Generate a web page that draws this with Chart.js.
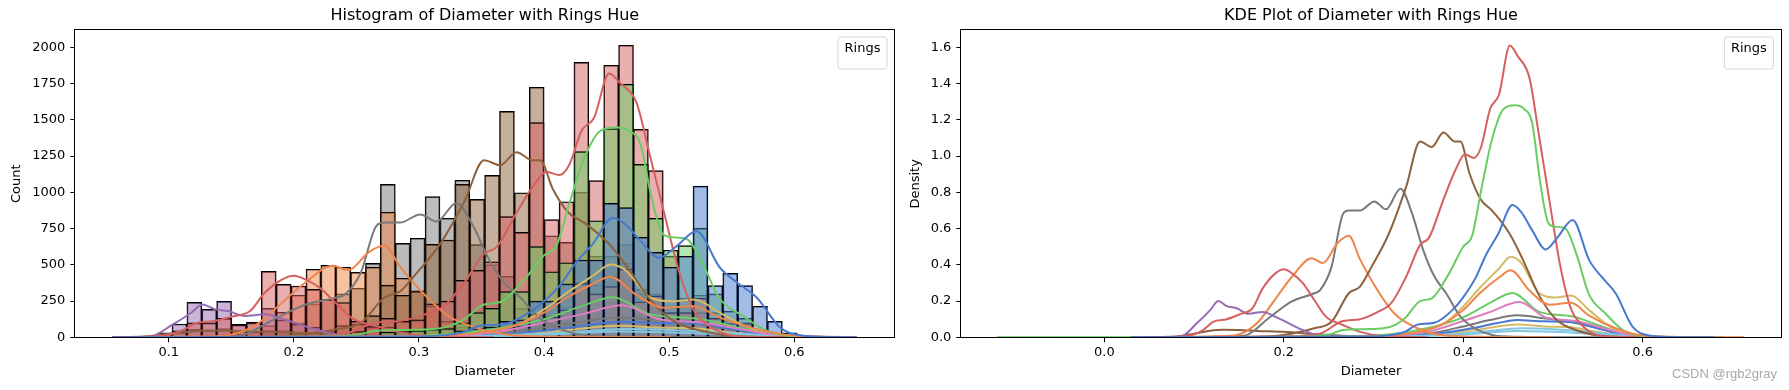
<!DOCTYPE html>
<html>
<head>
<meta charset="utf-8">
<script src="https://cdn.jsdelivr.net/npm/chart.js@4.4.1/dist/chart.umd.min.js"></script>
<style>
  html, body { margin: 0; padding: 0; background: #fff; }
  #wrap { position: relative; width: 1789px; height: 390px; overflow: hidden; background: #fff; }
  #c1 { position: absolute; left: 0; top: 0; }
  #c2 { position: absolute; left: 900px; top: 0; }
  #wm { position: absolute; left: 1672px; top: 366px; font: 13px 'Liberation Sans', sans-serif; line-height: 15px; color: #a8a8a8; white-space: nowrap; }
</style>
</head>
<body>
<div id="wrap">
  <canvas id="c1" width="900" height="390"></canvas>
  <canvas id="c2" width="889" height="390"></canvas>
  <div id="wm">CSDN @rgb2gray</div>
</div>
<script>
// ---------------- DATA ----------------
const histTitle = 'Histogram of Diameter with Rings Hue';
const kdeTitle = 'KDE Plot of Diameter with Rings Hue';
const xLabel = 'Diameter';
const histYLabel = 'Count';
const kdeYLabel = 'Density';
const legendTitle = 'Rings';

// histogram bins (seaborn auto bins over the data range)
const binStart = 0.055;
const binWidth = 0.0119;
const dataMin = 0.055;
const dataMax = 0.65;
const KDE_TO_COUNT = 1130; // density -> count (N * bin width)

const countTicks = [0, 250, 500, 750, 1000, 1250, 1500, 1750, 2000];
const histXTicks = [0.1, 0.2, 0.3, 0.4, 0.5, 0.6];
const densityTicks = [0, 0.2, 0.4, 0.6, 0.8, 1.0, 1.2, 1.4, 1.6];
const kdeXTicks = [0.0, 0.2, 0.4, 0.6];

// per-hue histogram counts, by bin index
const blueHist    = [0,0,0,0,0,0,0,0,0,0,0,0,0,0,0,0,0,0,0,0,0,0,20,45,60,70,110,120,250,250,368,533,533,924,894,690,586,483,559,1043,356,441,356,214,110,30,8];
const orange2Hist = [0,0,0,0,0,0,0,0,0,0,0,0,0,0,0,0,0,0,0,0,0,0,0,0,25,35,70,75,155,140,190,370,300,350,470,245,285,170,170,270,130,95,100,40,28,8];
const greenHist   = [0,0,0,0,0,0,0,0,0,0,0,0,0,0,0,0,0,0,35,40,45,55,60,100,170,200,315,315,625,452,514,1280,804,1439,1745,1193,820,600,632,751,300,180,130,50,25,8];
const redBigHist  = [0,0,0,0,0,0,0,0,0,0,0,0,0,0,0,0,40,80,130,110,120,230,250,393,462,521,832,724,1480,811,935,1896,1080,1876,2014,1434,1149,560,270,170,30,10];
const redSmallHist= [0,0,0,10,45,100,100,130,85,100,455,365,354,330,260,240,110,70,70,30,15,8];
const purpleHist  = [0,0,0,30,92,241,193,248,90,105,200,120,90,70,30,20,8,4];
const brownHist   = [0,0,0,0,0,0,0,0,0,0,0,0,20,30,40,80,90,150,360,290,320,641,671,1055,951,1117,1558,997,1724,700,655,1000,560,560,640,330,300,100,65,55,20,10];
const orange1Hist = [0,0,0,0,0,0,0,0,20,35,80,172,290,469,496,483,448,483,863,407,315,215,110,70,30,15,8];
const grayHist    = [0,0,0,0,0,0,0,0,0,0,25,50,100,230,260,300,338,510,1055,648,683,970,821,1083,640,500,420,200,160,70,40,25,10];
const pinkHist    = [0,0,0,0,0,0,0,0,0,0,0,0,0,0,0,0,0,0,0,0,0,0,0,0,0,0,20,30,57,57,85,170,142,170,270,150,170,95,90,128,70,47,50,19,8];
const oliveHist   = [0,0,0,0,0,0,0,0,0,0,0,0,0,0,0,0,0,0,0,0,0,0,0,0,30,50,70,90,140,150,210,380,360,420,510,300,290,210,210,290,170,115,90,40,25,8];
const cyan1Hist   = [0,0,0,0,0,0,0,0,0,0,0,0,0,0,0,0,0,0,0,0,0,0,0,0,0,0,0,0,0,0,25,45,40,48,70,45,55,38,35,48,28,15];
const blue2Hist   = [0,0,0,0,0,0,0,0,0,0,0,0,0,0,0,0,0,0,0,0,0,0,0,0,0,0,0,0,30,30,45,90,75,88,135,85,110,75,75,110,55,35,30,10];
const green2Hist  = [0,0,0,0,0,0,0,0,0,0,0,0,0,0,0,0,0,0,0,0,0,0,0,0,0,0,30,40,85,75,115,240,200,235,325,170,200,115,110,165,85,62,64,24,10];
const brown2Hist  = [0,0,0,10,30,55,45,60,40,38,50,30,28,30,15,10];
const gray2Hist   = [0,0,0,0,0,0,0,0,0,0,0,0,0,0,0,0,0,0,0,0,0,0,0,0,0,0,0,20,42,40,57,114,95,110,170,105,142,85,80,113,62,43,43,14];
const olive2Hist  = [0,0,0,0,0,0,0,0,0,0,0,0,0,0,0,0,0,0,0,0,0,0,0,0,0,0,0,0,0,25,35,65,55,65,100,60,75,50,45,65,35,22,18];
const cyan2Hist   = [0,0,0,0,0,0,0,0,0,0,0,0,0,0,0,0,0,0,0,0,0,0,0,0,0,0,0,0,0,0,18,32,28,34,50,32,40,27,25,34,20];

// per-hue KDE curves (density), key points
const kdeBlueX = [0.03,0.30,0.335,0.349,0.368,0.388,0.40,0.413,0.426,0.439,0.455,0.465,0.477,0.492,0.505,0.522,0.5405,0.555,0.570,0.589,0.607,0.63,0.68];
const kdeBlueY = [0,0.005,0.03,0.07,0.08,0.15,0.22,0.32,0.46,0.57,0.73,0.69,0.59,0.485,0.55,0.647,0.426,0.33,0.243,0.058,0.01,0.002,0];
const kdeOrange2X = [0.1,0.3,0.35,0.38,0.40,0.42,0.44,0.453,0.4736,0.496,0.52,0.5405,0.57,0.60,0.64,0.713];
const kdeOrange2Y = [0,0.005,0.03,0.08,0.15,0.25,0.33,0.37,0.26,0.18,0.19,0.12,0.05,0.01,0.002,0];
const kdeGreenX = [0.08,0.22,0.25,0.266,0.29,0.311,0.325,0.336,0.352,0.365,0.384,0.40,0.41,0.42,0.432,0.445,0.458,0.468,0.477,0.486,0.495,0.503,0.514,0.526,0.54,0.559,0.578,0.595,0.62,0.69];
const kdeGreenY = [0,0.003,0.015,0.04,0.045,0.05,0.07,0.11,0.20,0.215,0.35,0.5,0.56,0.81,1.09,1.26,1.28,1.26,1.18,0.85,0.63,0.61,0.60,0.463,0.24,0.13,0.04,0.01,0.002,0];
const kdeRedBigX = [0.05,0.20,0.24,0.266,0.285,0.305,0.32,0.336,0.352,0.362,0.378,0.392,0.402,0.412,0.42,0.43,0.44,0.452,0.461,0.474,0.484,0.496,0.508,0.52,0.53,0.545,0.56,0.68];
const kdeRedBigY = [0,0.005,0.02,0.09,0.10,0.14,0.19,0.33,0.51,0.55,0.76,0.93,1.01,0.99,1.05,1.26,1.34,1.61,1.55,1.43,1.13,0.76,0.40,0.16,0.08,0.02,0.004,0];
const kdeRedSmallX = [0.05,0.09,0.11,0.1216,0.1365,0.151,0.165,0.1765,0.19,0.2,0.21,0.221,0.234,0.247,0.266,0.285,0.31,0.36];
const kdeRedSmallY = [0,0.005,0.04,0.086,0.1,0.127,0.16,0.27,0.35,0.375,0.35,0.30,0.206,0.114,0.068,0.03,0.007,0];
const kdePurpleX = [0.03,0.0844,0.103,0.118,0.127,0.1365,0.1476,0.1606,0.1765,0.19,0.202,0.221,0.24,0.3];
const kdePurpleY = [0,0.003,0.077,0.15,0.2,0.172,0.16,0.13,0.14,0.115,0.086,0.04,0.01,0];
const kdeBrownX = [0.05,0.18,0.2085,0.234,0.2533,0.2725,0.285,0.298,0.317,0.3364,0.352,0.365,0.378,0.391,0.397,0.407,0.4196,0.432,0.4516,0.4664,0.4848,0.5034,0.5257,0.55,0.58,0.65];
const kdeBrownY = [0,0.005,0.02,0.05,0.086,0.243,0.28,0.39,0.57,0.83,1.08,1.05,1.13,1.08,1.08,0.905,0.76,0.70,0.573,0.43,0.23,0.1,0.04,0.01,0.002,0];
const kdeOrange1X = [0.06,0.12,0.145,0.17,0.189,0.2085,0.231,0.2437,0.26,0.2725,0.285,0.3045,0.3236,0.349,0.375,0.42,0.5];
const kdeOrange1Y = [0,0.005,0.01,0.077,0.2,0.33,0.436,0.41,0.52,0.56,0.43,0.26,0.13,0.05,0.013,0.003,0];
const kdeGrayX = [0.07,0.13,0.157,0.183,0.2085,0.234,0.2405,0.2533,0.266,0.2725,0.285,0.301,0.314,0.33,0.343,0.3556,0.368,0.381,0.397,0.413,0.432,0.46,0.55];
const kdeGrayY = [0,0.003,0.01,0.105,0.197,0.243,0.26,0.39,0.68,0.70,0.70,0.75,0.706,0.82,0.684,0.48,0.335,0.243,0.114,0.05,0.013,0.003,0];
const kdePinkX = [0.1,0.3,0.36,0.40,0.43,0.4625,0.492,0.5257,0.55,0.58,0.62,0.69];
const kdePinkY = [0,0.005,0.03,0.09,0.14,0.195,0.11,0.09,0.06,0.02,0.003,0];
const kdeOliveX = [0.1,0.3,0.35,0.38,0.40,0.42,0.44,0.453,0.465,0.4848,0.5034,0.52,0.5405,0.555,0.570,0.59,0.62,0.68];
const kdeOliveY = [0,0.005,0.03,0.08,0.17,0.28,0.38,0.445,0.41,0.243,0.22,0.23,0.15,0.09,0.04,0.01,0.002,0];
const kdeCyan1X = [0.1,0.3,0.38,0.42,0.465,0.5,0.53,0.56,0.6,0.66];
const kdeCyan1Y = [0,0.002,0.015,0.03,0.05,0.045,0.035,0.02,0.004,0];
const kdeBlue2X = [0.1,0.3,0.37,0.41,0.44,0.46,0.49,0.52,0.55,0.58,0.62,0.68];
const kdeBlue2Y = [0,0.003,0.02,0.05,0.08,0.095,0.088,0.085,0.05,0.015,0.002,0];
const kdeGreen2X = [-0.12,0.2,0.3,0.35,0.4,0.43,0.455,0.485,0.522,0.552,0.58,0.62,0.69];
const kdeGreen2Y = [0,0.002,0.01,0.04,0.11,0.19,0.245,0.14,0.115,0.065,0.02,0.003,0];
const kdeBrown2X = [0.03,0.08,0.1,0.13,0.15,0.17,0.2,0.24,0.28,0.35];
const kdeBrown2Y = [0,0.005,0.02,0.042,0.04,0.035,0.03,0.015,0.005,0];
const kdeGray2X = [0.1,0.3,0.36,0.4,0.43,0.46,0.49,0.52,0.55,0.58,0.62,0.68];
const kdeGray2Y = [0,0.005,0.02,0.06,0.095,0.121,0.105,0.085,0.05,0.015,0.003,0];
const kdeOlive2X = [0.1,0.3,0.38,0.42,0.46,0.49,0.52,0.55,0.58,0.62,0.68];
const kdeOlive2Y = [0,0.003,0.02,0.045,0.07,0.06,0.055,0.03,0.01,0.002,0];
const kdeCyan2X = [0.1,0.32,0.4,0.46,0.5,0.54,0.58,0.64];
const kdeCyan2Y = [0,0.002,0.015,0.035,0.03,0.02,0.006,0];

// ---------------- STYLE ----------------
const muted = { blue:'#4878D0', orange:'#EE854A', green:'#6ACC64', red:'#D65F5F', purple:'#956CB4',
                brown:'#8C613C', pink:'#DC7EC0', gray:'#797979', olive:'#D5BB67', cyan:'#82C6E2' };

// drawing order: first entry is drawn on top
const series = [
  { c: muted.blue,   h: blueHist,     kx: kdeBlueX,     ky: kdeBlueY },
  { c: muted.orange, h: orange2Hist,  kx: kdeOrange2X,  ky: kdeOrange2Y },
  { c: muted.green,  h: greenHist,    kx: kdeGreenX,    ky: kdeGreenY },
  { c: muted.red,    h: redBigHist,   kx: kdeRedBigX,   ky: kdeRedBigY },
  { c: muted.red,    h: redSmallHist, kx: kdeRedSmallX, ky: kdeRedSmallY },
  { c: muted.purple, h: purpleHist,   kx: kdePurpleX,   ky: kdePurpleY },
  { c: muted.brown,  h: brownHist,    kx: kdeBrownX,    ky: kdeBrownY },
  { c: muted.orange, h: orange1Hist,  kx: kdeOrange1X,  ky: kdeOrange1Y },
  { c: muted.gray,   h: grayHist,     kx: kdeGrayX,     ky: kdeGrayY },
  { c: muted.pink,   h: pinkHist,     kx: kdePinkX,     ky: kdePinkY },
  { c: muted.olive,  h: oliveHist,    kx: kdeOliveX,    ky: kdeOliveY },
  { c: muted.cyan,   h: cyan1Hist,    kx: kdeCyan1X,    ky: kdeCyan1Y },
  { c: muted.blue,   h: blue2Hist,    kx: kdeBlue2X,    ky: kdeBlue2Y },
  { c: muted.green,  h: green2Hist,   kx: kdeGreen2X,   ky: kdeGreen2Y },
  { c: muted.brown,  h: brown2Hist,   kx: kdeBrown2X,   ky: kdeBrown2Y },
  { c: muted.gray,   h: gray2Hist,    kx: kdeGray2X,    ky: kdeGray2Y },
  { c: muted.olive,  h: olive2Hist,   kx: kdeOlive2X,   ky: kdeOlive2Y },
  { c: muted.cyan,   h: cyan2Hist,    kx: kdeCyan2X,    ky: kdeCyan2Y }
];

function rgba(hex, a) {
  const n = parseInt(hex.slice(1), 16);
  return `rgba(${(n >> 16) & 255},${(n >> 8) & 255},${n & 255},${a})`;
}

Chart.defaults.font.family = "'DejaVu Sans', sans-serif";
Chart.defaults.font.size = 13;
Chart.defaults.color = '#000';
Chart.defaults.animation = false;

const FONT = "'DejaVu Sans', sans-serif";

const framePlugin = {
  id: 'frameLegend',
  afterDraw(chart) {
    const { ctx, chartArea: ca } = chart;
    ctx.save();
    // axes frame
    ctx.strokeStyle = '#000';
    ctx.lineWidth = 1;
    const L = Math.round(ca.left) - 0.5, R = Math.round(ca.right) + 0.5;
    const T = Math.round(ca.top) - 0.5, B = Math.round(ca.bottom) + 0.5;
    ctx.strokeRect(L, T, R - L, B - T);
    // empty legend with title
    const w = 49, h = 32, r = 3;
    const x = ca.right - 7.3 - w, y = ca.top + 6.7;
    ctx.beginPath();
    ctx.moveTo(x + r, y);
    ctx.lineTo(x + w - r, y); ctx.arcTo(x + w, y, x + w, y + r, r);
    ctx.lineTo(x + w, y + h - r); ctx.arcTo(x + w, y + h, x + w - r, y + h, r);
    ctx.lineTo(x + r, y + h); ctx.arcTo(x, y + h, x, y + h - r, r);
    ctx.lineTo(x, y + r); ctx.arcTo(x, y, x + r, y, r);
    ctx.closePath();
    ctx.fillStyle = 'rgba(255,255,255,0.8)';
    ctx.fill();
    ctx.strokeStyle = '#d6d6d6';
    ctx.stroke();
    ctx.fillStyle = '#000';
    ctx.font = '13px ' + FONT;
    ctx.textAlign = 'center';
    ctx.textBaseline = 'middle';
    ctx.fillText(legendTitle, x + w / 2, y + 11.8);
    ctx.restore();
  }
};

function axisCommon(ticksArr, fmt) {
  return {
    type: 'linear',
    offset: false,
    border: { display: false },
    grid: { display: true, offset: false, drawOnChartArea: false, drawTicks: true, tickLength: 5, tickColor: '#000', tickWidth: 1, color: '#000' },
    ticks: { color: '#000', font: { size: 13, family: FONT }, maxRotation: 0, autoSkip: false, callback: fmt },
    afterBuildTicks: (s) => { s.ticks = ticksArr.map(v => ({ value: v })); }
  };
}

function kdePoints(xs, ys, factor, clipLo, clipHi) {
  const pts = [];
  if (clipLo !== undefined && xs[0] < clipLo) pts.push({ x: clipLo, y: 0 });
  for (let i = 0; i < xs.length; i++) {
    if (clipLo !== undefined && (xs[i] < clipLo || xs[i] > clipHi)) continue;
    pts.push({ x: xs[i], y: ys[i] * factor });
  }
  if (clipHi !== undefined && xs[xs.length - 1] > clipHi) pts.push({ x: clipHi, y: 0 });
  return pts;
}

// ---------------- HISTOGRAM ----------------
const histDatasets = [];
series.forEach((s) => {
  histDatasets.push({
    type: 'line', order: 0,
    data: kdePoints(s.kx, s.ky, KDE_TO_COUNT, dataMin, dataMax),
    borderColor: s.c, borderWidth: 2, pointRadius: 0, fill: false,
    cubicInterpolationMode: 'monotone', borderJoinStyle: 'round'
  });
});
series.forEach((s) => {
  const pts = [];
  s.h.forEach((c, k) => { if (c > 0) pts.push({ x: binStart + (k + 0.5) * binWidth, y: c }); });
  histDatasets.push({
    type: 'bar', order: 1, data: pts,
    backgroundColor: rgba(s.c, 0.5), borderColor: '#000', borderWidth: 1,
    barPercentage: 1, categoryPercentage: 1, grouped: false
  });
});

const xHist = axisCommon(histXTicks, v => v.toFixed(1));
Object.assign(xHist, {
  min: 0.0253, max: 0.680,
  title: { display: true, text: xLabel, color: '#000', font: { size: 13, family: FONT }, padding: { top: 0, bottom: 10.5 } },
  afterFit: (s) => { s.height = 52.7; }
});
xHist.ticks.padding = 3;
const yHist = axisCommon(countTicks, v => String(v));
Object.assign(yHist, {
  min: 0, max: 2117,
  title: { display: true, text: histYLabel, color: '#000', font: { size: 13, family: FONT }, padding: { top: 9, bottom: 0 } },
  afterFit: (s) => { s.width = 75.3; }
});
yHist.ticks.padding = 5;

new Chart(document.getElementById('c1'), {
  type: 'bar',
  data: { datasets: histDatasets },
  options: {
    responsive: false,
    animation: false,
    layout: { padding: { left: 0, right: 5.7, top: 0, bottom: 0 } },
    plugins: {
      legend: { display: false },
      tooltip: { enabled: false },
      title: { display: true, text: histTitle, fullSize: false, color: '#000',
               font: { size: 16, family: FONT, weight: 'normal' }, padding: { top: 6.7, bottom: 4.4 } }
    },
    scales: { x: xHist, y: yHist }
  },
  plugins: [framePlugin]
});

// ---------------- KDE ----------------
const kdeDatasets = series.map(s => ({
  type: 'line',
  data: kdePoints(s.kx, s.ky, 1),
  borderColor: s.c, borderWidth: 2, pointRadius: 0, fill: false,
  cubicInterpolationMode: 'monotone', borderJoinStyle: 'round'
}));

const xKde = axisCommon(kdeXTicks, v => v.toFixed(1));
Object.assign(xKde, {
  min: -0.1595, max: 0.754,
  title: { display: true, text: xLabel, color: '#000', font: { size: 13, family: FONT }, padding: { top: 0, bottom: 10.5 } },
  afterFit: (s) => { s.height = 52.7; }
});
xKde.ticks.padding = 3;
const yKde = axisCommon(densityTicks, v => v.toFixed(1));
Object.assign(yKde, {
  min: 0, max: 1.694,
  title: { display: true, text: kdeYLabel, color: '#000', font: { size: 13, family: FONT }, padding: { top: 8.2, bottom: 0 } },
  afterFit: (s) => { s.width = 61.3; }
});
yKde.ticks.padding = 5;

new Chart(document.getElementById('c2'), {
  type: 'line',
  data: { datasets: kdeDatasets },
  options: {
    responsive: false,
    animation: false,
    layout: { padding: { left: 0, right: 8.3, top: 0, bottom: 0 } },
    plugins: {
      legend: { display: false },
      tooltip: { enabled: false },
      title: { display: true, text: kdeTitle, fullSize: false, color: '#000',
               font: { size: 16, family: FONT, weight: 'normal' }, padding: { top: 6.7, bottom: 4.4 } }
    },
    scales: { x: xKde, y: yKde }
  },
  plugins: [framePlugin]
});
</script>
</body>
</html>
